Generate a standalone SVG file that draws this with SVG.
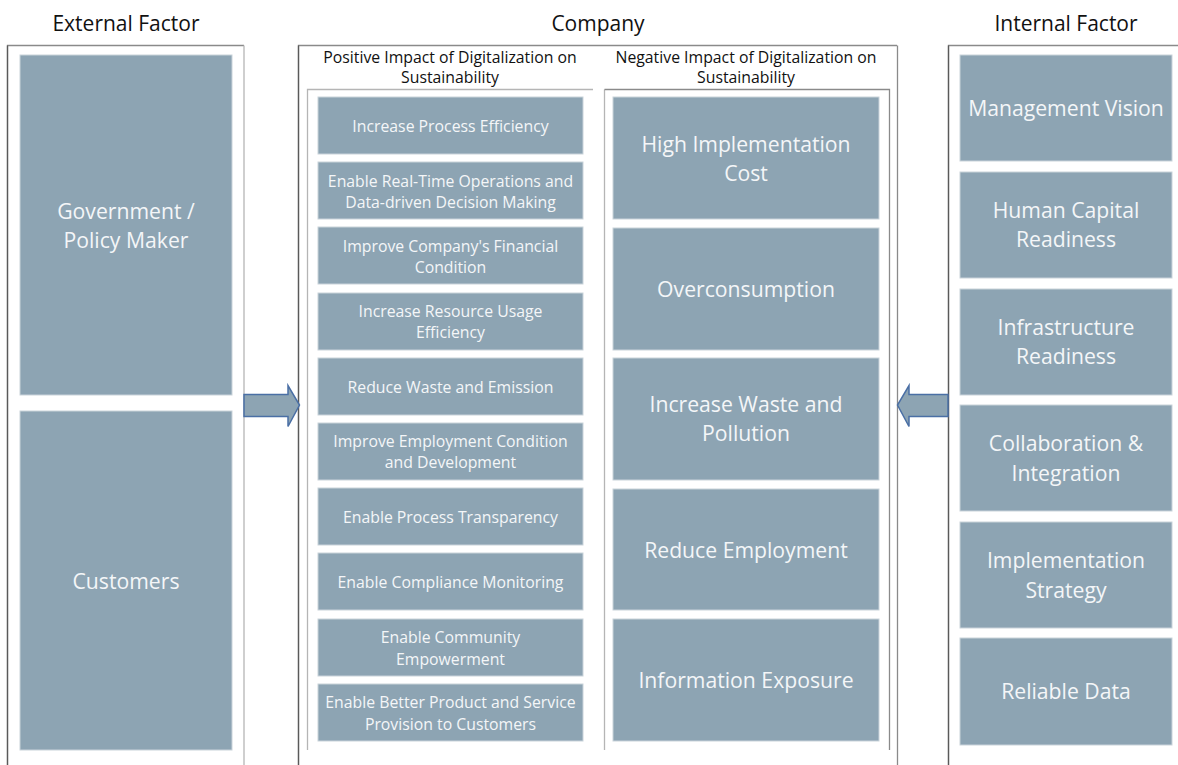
<svg xmlns="http://www.w3.org/2000/svg" width="1178" height="765" viewBox="0 0 1178 765">
  <style>
    .title { font-family: "Open Sans", "Liberation Sans", sans-serif; font-size: 21px; fill: #111; text-anchor: middle; }
    .sub { font-family: "Open Sans", "Liberation Sans", sans-serif; font-size: 15.8px; fill: #111; text-anchor: middle; }
    .box { fill: #8DA4B3; stroke: #C9D3DA; stroke-width: 1; }
    .t-lg { font-family: "Open Sans", "Liberation Sans", sans-serif; font-size: 21.2px; fill: #F4F6F8; text-anchor: middle; }
    .t-sm { font-family: "Open Sans", "Liberation Sans", sans-serif; font-size: 15.8px; fill: #F4F6F8; text-anchor: middle; }
    .frame-dark { stroke: #5A5A5A; stroke-width: 1.3; fill: none; }
    .frame-light { stroke: #B5B5B5; stroke-width: 1.3; fill: none; }
    .frame-mid { stroke: #8A8A8A; stroke-width: 1.3; fill: none; }
    .arrow { fill: #8DA4B3; stroke: #4A6FA5; stroke-width: 1.5; stroke-linejoin: miter; }
  </style>

  <rect width="1178" height="765" fill="#FFFFFF"/>

  <!-- Column headings -->
  <text class="title" x="126" y="31">External Factor</text>
  <text class="title" x="598" y="31">Company</text>
  <text class="title" x="1066" y="31">Internal Factor</text>

  <!-- Outer frames (open at the bottom) -->
  <g id="frames">
    <path class="frame-mid" d="M7.5,765 V45.5 H244"/>
    <path class="frame-dark" d="M7.5,45.5 V765"/>
    <path class="frame-light" d="M244,45.5 V765"/>

    <path class="frame-mid" d="M298.5,765 V45.5 H897"/>
    <path class="frame-dark" d="M298.5,45.5 V765"/>
    <path class="frame-mid" d="M897.5,45.5 V765"/>

    <path class="frame-mid" d="M948.5,765 V45.5 H1178"/>
    <path class="frame-dark" d="M948.5,45.5 V765"/>

    <!-- Company sub-panels -->
    <path class="frame-light" d="M307.5,750 V89.5 H593"/>
    <path class="frame-light" d="M604.5,750 V89.5"/>
    <path class="frame-mid" d="M604.5,89.5 H889.5 V750"/>
  </g>

  <text class="sub" x="450" y="63">Positive Impact of Digitalization on</text>
  <text class="sub" x="450" y="83">Sustainability</text>
  <text class="sub" x="746" y="63">Negative Impact of Digitalization on</text>
  <text class="sub" x="746" y="83">Sustainability</text>

  <!-- External factors -->
  <g id="ext-government">
    <rect class="box" x="20" y="55" width="212" height="340"/>
    <text class="t-lg" x="126" y="219">Government /</text>
    <text class="t-lg" x="126" y="248">Policy Maker</text>
  </g>
  <g id="ext-customers">
    <rect class="box" x="20" y="411" width="212" height="339"/>
    <text class="t-lg" x="126" y="589">Customers</text>
  </g>

  <!-- Positive impacts -->
  <g id="pos-1">
    <rect class="box" x="318" y="97" width="265" height="57"/>
    <text class="t-sm" x="450.5" y="132">Increase Process Efficiency</text>
  </g>
  <g id="pos-2">
    <rect class="box" x="318" y="162" width="265" height="57"/>
    <text class="t-sm" x="450.5" y="187">Enable Real-Time Operations and</text>
    <text class="t-sm" x="450.5" y="208">Data-driven Decision Making</text>
  </g>
  <g id="pos-3">
    <rect class="box" x="318" y="227" width="265" height="57"/>
    <text class="t-sm" x="450.5" y="252">Improve Company's Financial</text>
    <text class="t-sm" x="450.5" y="273">Condition</text>
  </g>
  <g id="pos-4">
    <rect class="box" x="318" y="293" width="265" height="57"/>
    <text class="t-sm" x="450.5" y="317">Increase Resource Usage</text>
    <text class="t-sm" x="450.5" y="338">Efficiency</text>
  </g>
  <g id="pos-5">
    <rect class="box" x="318" y="358" width="265" height="57"/>
    <text class="t-sm" x="450.5" y="393">Reduce Waste and Emission</text>
  </g>
  <g id="pos-6">
    <rect class="box" x="318" y="423" width="265" height="57"/>
    <text class="t-sm" x="450.5" y="447">Improve Employment Condition</text>
    <text class="t-sm" x="450.5" y="468">and Development</text>
  </g>
  <g id="pos-7">
    <rect class="box" x="318" y="488" width="265" height="57"/>
    <text class="t-sm" x="450.5" y="523">Enable Process Transparency</text>
  </g>
  <g id="pos-8">
    <rect class="box" x="318" y="553" width="265" height="57"/>
    <text class="t-sm" x="450.5" y="588">Enable Compliance Monitoring</text>
  </g>
  <g id="pos-9">
    <rect class="box" x="318" y="619" width="265" height="57"/>
    <text class="t-sm" x="450.5" y="643">Enable Community</text>
    <text class="t-sm" x="450.5" y="665">Empowerment</text>
  </g>
  <g id="pos-10">
    <rect class="box" x="318" y="684" width="265" height="57"/>
    <text class="t-sm" x="450.5" y="708">Enable Better Product and Service</text>
    <text class="t-sm" x="450.5" y="730">Provision to Customers</text>
  </g>

  <!-- Negative impacts -->
  <g id="neg-1">
    <rect class="box" x="613" y="97" width="266" height="122"/>
    <text class="t-lg" x="746" y="152">High Implementation</text>
    <text class="t-lg" x="746" y="181">Cost</text>
  </g>
  <g id="neg-2">
    <rect class="box" x="613" y="228" width="266" height="122"/>
    <text class="t-lg" x="746" y="297">Overconsumption</text>
  </g>
  <g id="neg-3">
    <rect class="box" x="613" y="358" width="266" height="122"/>
    <text class="t-lg" x="746" y="412">Increase Waste and</text>
    <text class="t-lg" x="746" y="441">Pollution</text>
  </g>
  <g id="neg-4">
    <rect class="box" x="613" y="489" width="266" height="121"/>
    <text class="t-lg" x="746" y="558">Reduce Employment</text>
  </g>
  <g id="neg-5">
    <rect class="box" x="613" y="619" width="266" height="122"/>
    <text class="t-lg" x="746" y="688">Information Exposure</text>
  </g>

  <!-- Internal factors -->
  <g id="int-1">
    <rect class="box" x="960" y="55" width="212" height="106"/>
    <text class="t-lg" x="1066" y="116">Management Vision</text>
  </g>
  <g id="int-2">
    <rect class="box" x="960" y="172" width="212" height="106"/>
    <text class="t-lg" x="1066" y="218">Human Capital</text>
    <text class="t-lg" x="1066" y="247">Readiness</text>
  </g>
  <g id="int-3">
    <rect class="box" x="960" y="289" width="212" height="106"/>
    <text class="t-lg" x="1066" y="335">Infrastructure</text>
    <text class="t-lg" x="1066" y="364">Readiness</text>
  </g>
  <g id="int-4">
    <rect class="box" x="960" y="405" width="212" height="106"/>
    <text class="t-lg" x="1066" y="451">Collaboration &amp;</text>
    <text class="t-lg" x="1066" y="481">Integration</text>
  </g>
  <g id="int-5">
    <rect class="box" x="960" y="522" width="212" height="106"/>
    <text class="t-lg" x="1066" y="568">Implementation</text>
    <text class="t-lg" x="1066" y="598">Strategy</text>
  </g>
  <g id="int-6">
    <rect class="box" x="960" y="638" width="212" height="107"/>
    <text class="t-lg" x="1066" y="699">Reliable Data</text>
  </g>

  <!-- Block arrows into the company panel -->
  <g id="connectors">
    <path class="arrow" d="M244,394.5 H288 V385.5 L299.5,405 L288,426.5 V416.5 H244 Z"/>
    <path class="arrow" d="M948,394.5 H909 V385.5 L897.5,405 L909,426.5 V416.5 H948 Z"/>
  </g>
</svg>
